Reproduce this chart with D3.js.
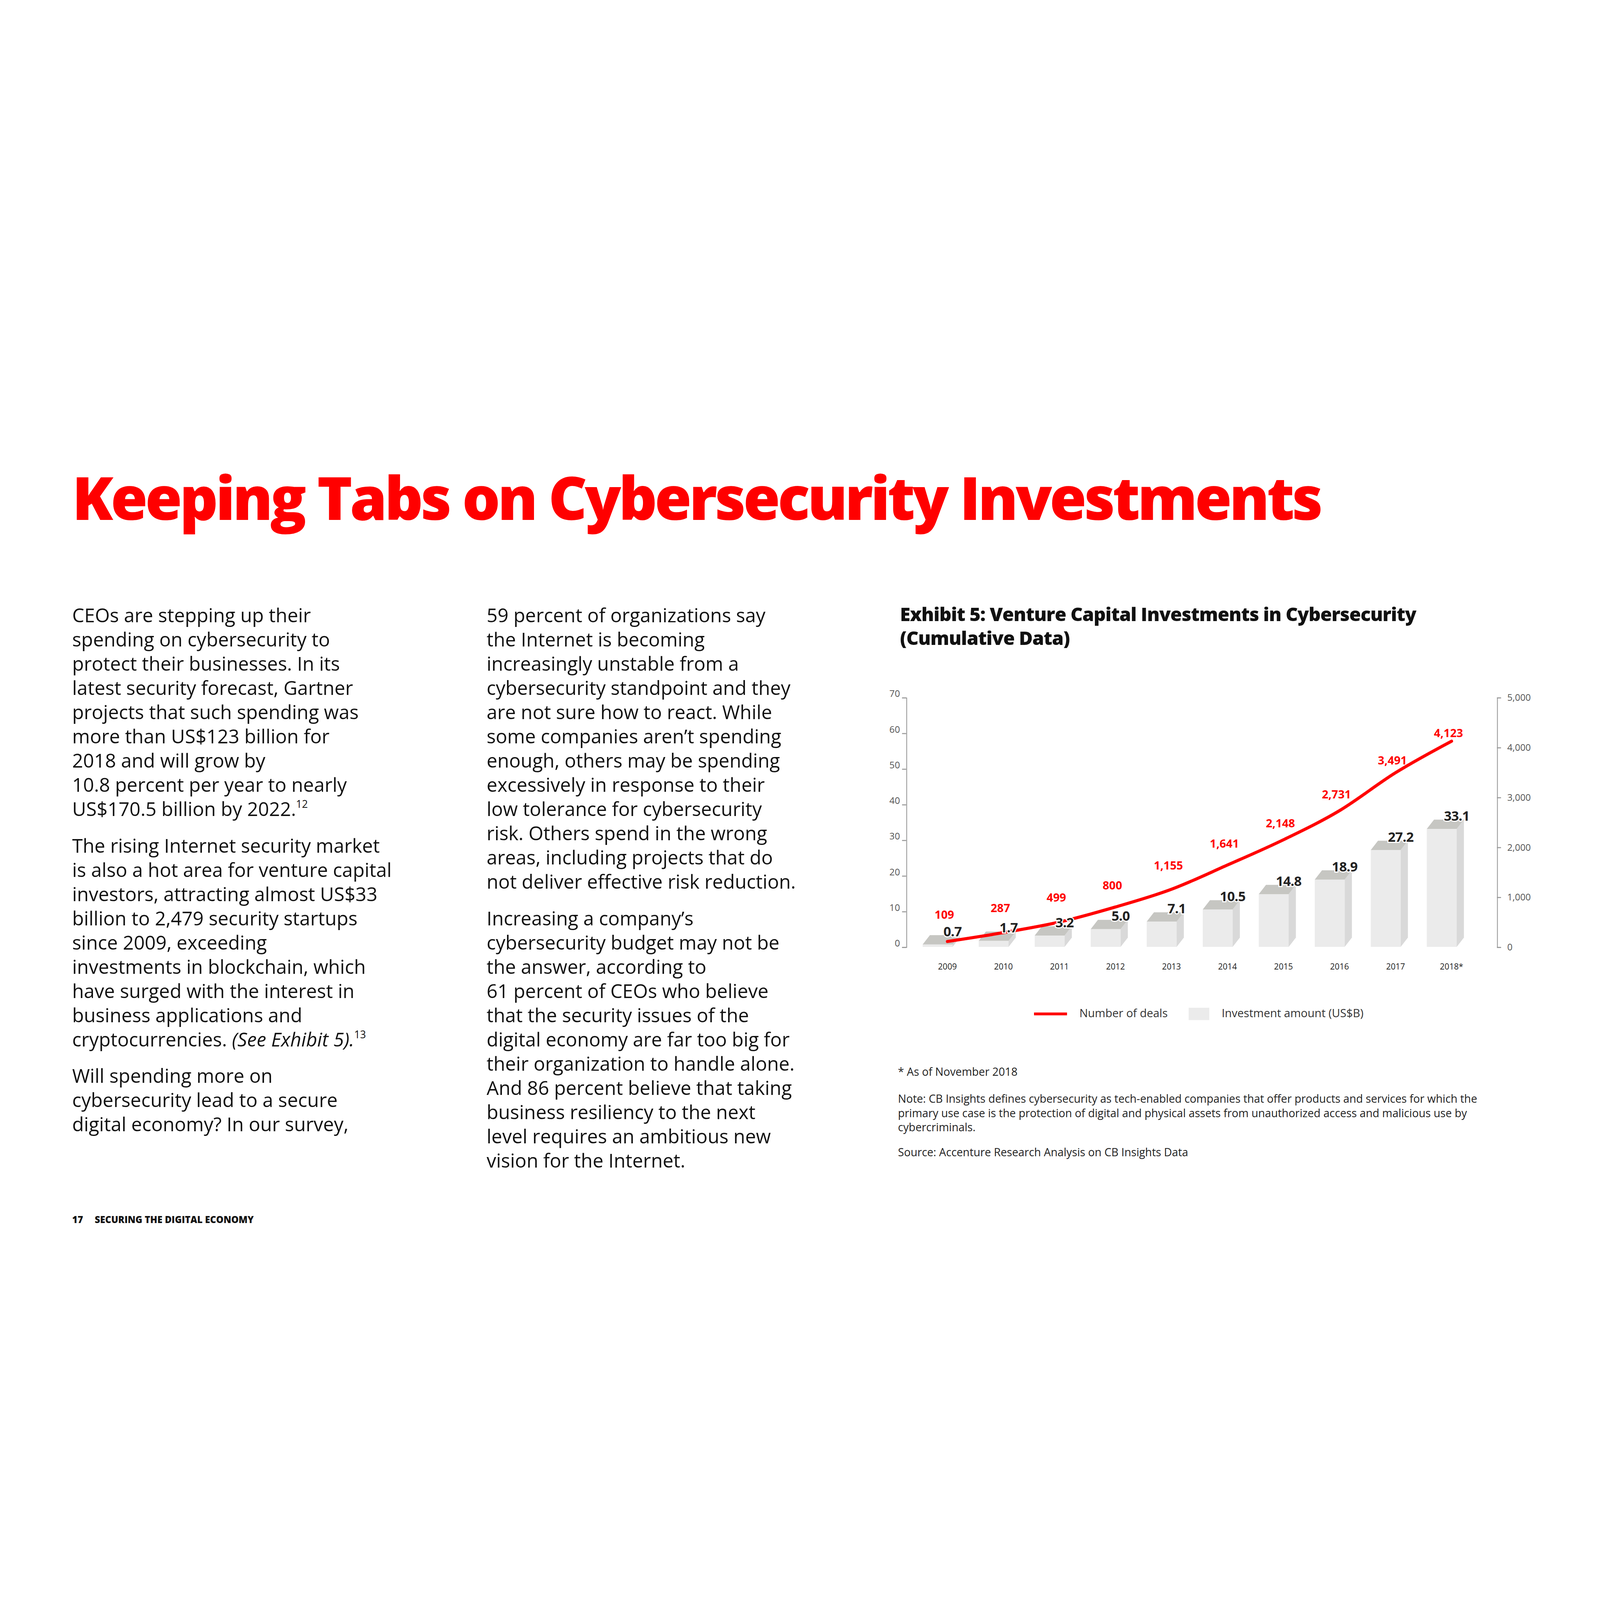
<!DOCTYPE html>
<html>
<head>
<meta charset="utf-8">
<script src="https://cdn.jsdelivr.net/npm/d3@7"></script>
<style>
  html, body { margin: 0; background: #fff; overflow: hidden; }
  svg { display: block; width: 100vw; height: 100vh; }
  text { font-family: "Open Sans", "Noto Sans", sans-serif; }
</style>
</head>
<body>
<svg id="chart" viewBox="0 0 1552 873" preserveAspectRatio="xMidYMid meet"></svg>
<script>
var years = ["2009", "2010", "2011", "2012", "2013", "2014", "2015", "2016", "2017", "2018*"];
var investment = [0.7, 1.7, 3.2, 5.0, 7.1, 10.5, 14.8, 18.9, 27.2, 33.1];
var deals = [109, 287, 499, 800, 1155, 1641, 2148, 2731, 3491, 4123];
var leftTicks = [0, 10, 20, 30, 40, 50, 60, 70];
var rightTicks = [0, 1000, 2000, 3000, 4000, 5000];
// how far each red label sits above its point
var dealLift = [22, 20, 20, 17, 19, 17, 12, 12, 8, 4];

// body copy, "^" marks a superscript, "~" italic
var col1 = [
    ["CEOs are stepping up their", "spending on cybersecurity to", "protect their businesses. In its",
     "latest security forecast, Gartner", "projects that such spending was", "more than US$123 billion for",
     "2018 and will grow by", "10.8 percent per year to nearly", "US$170.5 billion by 2022.^12"],
    ["The rising Internet security market", "is also a hot area for venture capital", "investors, attracting almost US$33",
     "billion to 2,479 security startups", "since 2009, exceeding", "investments in blockchain, which",
     "have surged with the interest in", "business applications and", "cryptocurrencies. ~(See Exhibit 5).^13"],
    ["Will spending more on", "cybersecurity lead to a secure", "digital economy? In our survey,"]
];
var col2 = [
    ["59 percent of organizations say", "the Internet is becoming", "increasingly unstable from a",
     "cybersecurity standpoint and they", "are not sure how to react. While", "some companies aren\u2019t spending",
     "enough, others may be spending", "excessively in response to their", "low tolerance for cybersecurity",
     "risk. Others spend in the wrong", "areas, including projects that do", "not deliver effective risk reduction."],
    ["Increasing a company\u2019s", "cybersecurity budget may not be", "the answer, according to",
     "61 percent of CEOs who believe", "that the security issues of the", "digital economy are far too big for",
     "their organization to handle alone.", "And 86 percent believe that taking", "business resiliency to the next",
     "level requires an ambitious new", "vision for the Internet."]
];
var notes = [
    "* As of November 2018",
    "Note: CB Insights defines cybersecurity as tech-enabled companies that offer products and services for which the",
    "primary use case is the protection of digital and physical assets from unauthorized access and malicious use by",
    "cybercriminals.",
    "Source: Accenture Research Analysis on CB Insights Data"
];

var svg = d3.select("#chart");
var red = "#ff0000";

svg.append("text").attr("x", 70).attr("y", 165)
    .attr("font-family", "Inter").attr("font-weight", 800)
    .attr("font-size", 58).attr("letter-spacing", -2.4).attr("fill", red)
    .text("Keeping Tabs on Cybersecurity Investments");

function drawColumn(paras, x) {
    var y = 264;
    paras.forEach(function (lines) {
        lines.forEach(function (line) {
            var t = svg.append("text").attr("x", x).attr("y", y)
                .attr("font-size", 18.6).attr("fill", "#111");
            var m = line.match(/^([^~^]*)(~[^^]*)?(\^\d+)?$/);
            t.append("tspan").text(m[1]);
            if (m[2]) t.append("tspan").attr("font-style", "italic").text(m[2].slice(1));
            if (m[3]) t.append("tspan").attr("font-size", 10).attr("dy", -8).text(m[3].slice(1));
            y += 23.5;
        });
        y += 12;
    });
}
drawColumn(col1, 70);
drawColumn(col2, 472);

["Exhibit 5: Venture Capital Investments in Cybersecurity", "(Cumulative Data)"].forEach(function (s, i) {
    svg.append("text").attr("x", 873).attr("y", 263 + i * 23)
        .attr("font-family", "Inter").attr("font-weight", 800).attr("font-size", 18.3)
        .attr("letter-spacing", -0.4).attr("fill", "#111").text(s);
});

// scales
var x = d3.scalePoint().domain(years).range([919, 1408]);
var yL = d3.scaleLinear().domain([0, 70]).range([579, 337]);
var yR = d3.scaleLinear().domain([0, 5000]).range([579, 337]);

var axisL = svg.append("g").attr("transform", "translate(879,0)")
    .call(d3.axisLeft(yL).tickValues(leftTicks).tickSize(4).tickPadding(2));
var axisR = svg.append("g").attr("transform", "translate(1452,0)")
    .call(d3.axisRight(yR).tickValues(rightTicks).tickSize(4).tickPadding(6).tickFormat(d3.format(",")));
[axisL, axisR].forEach(function (a) {
    a.select(".domain").attr("stroke", "#999").attr("stroke-width", 0.8);
    a.selectAll(".tick line").attr("stroke", "#999");
    a.selectAll(".tick text").attr("font-size", 9).attr("fill", "#555")
        .attr("font-family", "Roboto");
});
axisL.selectAll(".tick text").attr("dy", "-0.1em");

// 3d bars
var fw = 29, dx = 7, dy = 9;
var bars = svg.append("g");
var barLabels = [];
years.forEach(function (yr, i) {
    var x0 = x(yr) - 24, top = yL(investment[i]), base = yL(0);
    bars.append("rect").attr("x", x0).attr("y", top).attr("width", fw).attr("height", base - top)
        .attr("fill", "#ebebeb");
    bars.append("path").attr("fill", "#d9d9d9")
        .attr("d", "M" + (x0 + fw) + "," + top + "L" + (x0 + fw + dx) + "," + (top - dy)
            + "L" + (x0 + fw + dx) + "," + (base - dy) + "L" + (x0 + fw) + "," + base + "Z");
    bars.append("path").attr("fill", "#c6c6c2")
        .attr("d", "M" + x0 + "," + top + "L" + (x0 + dx) + "," + (top - dy)
            + "L" + (x0 + fw + dx) + "," + (top - dy) + "L" + (x0 + fw) + "," + top + "Z");
    barLabels.push({ x: x(yr) + 5, y: Math.min(top - dy + 1, 579), v: investment[i] });
    svg.append("text").attr("x", x(yr)).attr("y", 601).attr("text-anchor", "middle")
        .attr("font-family", "Roboto").attr("font-size", 8).attr("fill", "#222").text(yr);
});

// deals line
var line = d3.line().x(function (d, i) { return x(years[i]); })
    .y(function (d) { return yR(d); }).curve(d3.curveMonotoneX);
svg.append("path").datum(deals).attr("d", line).attr("fill", "none")
    .attr("stroke", red).attr("stroke-width", 3).attr("stroke-linecap", "round");
deals.forEach(function (d, i) {
    svg.append("text").attr("x", x(years[i]) - 3).attr("y", yR(d) - dealLift[i])
        .attr("text-anchor", "middle").attr("font-family", "Roboto").attr("font-weight", 700)
        .attr("font-size", 11).attr("fill", red).text(d3.format(",")(d));
});

// bar values on top of the line so they stay readable
barLabels.forEach(function (b) {
    svg.append("text").attr("x", b.x).attr("y", b.y)
        .attr("text-anchor", "middle").attr("font-family", "Roboto").attr("font-weight", 700)
        .attr("font-size", 13).attr("letter-spacing", -0.3).attr("fill", "#222")
        .attr("stroke", "#fff").attr("stroke-width", 2).attr("paint-order", "stroke")
        .text(b.v.toFixed(1));
});

// legend
svg.append("line").attr("x1", 1003).attr("x2", 1035).attr("y1", 644).attr("y2", 644)
    .attr("stroke", red).attr("stroke-width", 2.8);
svg.append("text").attr("x", 1047).attr("y", 647).attr("font-size", 11).attr("fill", "#333")
    .text("Number of deals");
svg.append("rect").attr("x", 1153).attr("y", 638).attr("width", 20).attr("height", 12).attr("fill", "#ebebeb");
svg.append("text").attr("x", 1185).attr("y", 647).attr("font-size", 11).attr("fill", "#333")
    .text("Investment amount (US$B)");

var noteY = [704, 730, 744, 758, 782];
notes.forEach(function (n, i) {
    svg.append("text").attr("x", 871).attr("y", noteY[i]).attr("font-size", 10.7)
        .attr("fill", "#222").text(n);
});

svg.append("text").attr("x", 70).attr("y", 847).attr("font-family", "Inter").attr("font-weight", 800)
    .attr("font-size", 9).attr("fill", "#111")
    .text("17\u2003\u00a0SECURING THE DIGITAL ECONOMY");
</script>
</body>
</html>
